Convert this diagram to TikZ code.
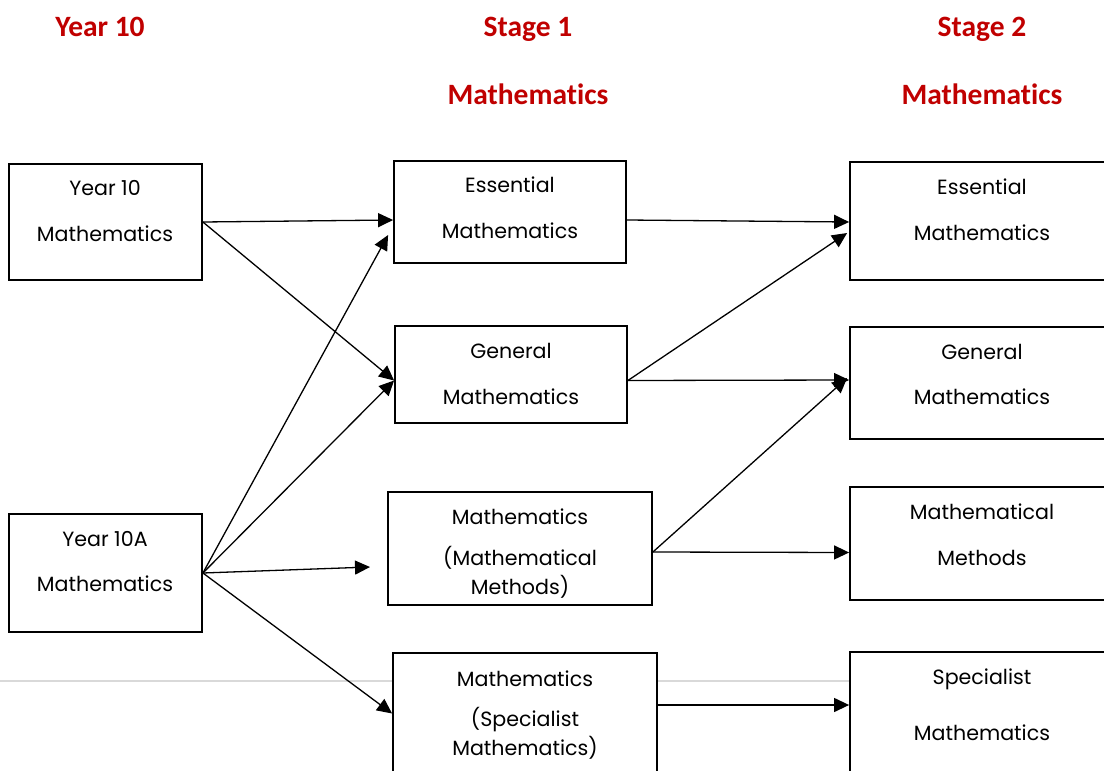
\documentclass[tikz,border=0pt]{standalone}
\usepackage{fontspec}
\setmainfont{Poppins}
\newfontfamily\headfont[Ligatures=NoCommon]{Carlito}
\usetikzlibrary{arrows.meta,calc}
\definecolor{headred}{HTML}{C00000}
\definecolor{pagegray}{HTML}{D9D9D9}
\begin{document}
\begin{tikzpicture}[x=1pt,y=-1pt,
 box/.style={draw=black,line width=1.8pt,fill=white,inner sep=0pt},
 txt/.style={font=\fontsize{20.6}{24}\selectfont,inner sep=0pt,text height=0.7em,text depth=0pt,yshift=-4pt},
 head/.style={font=\headfont\bfseries\fontsize{29.5}{34}\selectfont,text=headred,inner sep=0pt,text height=0.644em,text depth=0pt,yshift=-6.5pt},
 conn/.style={line width=1.3pt,-{Triangle[length=15pt,width=14pt]}}]
\useasboundingbox (0,0) rectangle (1104,771);
\draw[pagegray,line width=1.5pt] (0,681) -- (1104,681);
% headers
\node[head] (h1) at (100,27) {Year 10};
\node[head] (h2) at (528,27) {Stage 1};
\node[head] (h2b) at (528,95) {Mathematics};
\node[head] (h3) at (982,27) {Stage 2};
\node[head] (h3b) at (982,95) {Mathematics};
% boxes
\node[box,minimum width=193pt,minimum height=116pt] (y10) at (105.5,222) {};
\node[box,minimum width=193pt,minimum height=118pt] (y10a) at (105.5,573) {};
\node[box,minimum width=232pt,minimum height=102pt] (s1e) at (510,212) {};
\node[box,minimum width=232pt,minimum height=97pt] (s1g) at (511,374.5) {};
\node[box,minimum width=264pt,minimum height=113pt] (s1m) at (520,548.5) {};
\node[box,minimum width=264pt,minimum height=147pt] (s1s) at (525,726.5) {};
\node[box,minimum width=264pt,minimum height=118pt] (s2e) at (982,221) {};
\node[box,minimum width=264pt,minimum height=112pt] (s2g) at (982,383) {};
\node[box,minimum width=264pt,minimum height=113pt] (s2m) at (982,543.5) {};
\node[box,minimum width=264pt,minimum height=148pt] (s2s) at (982,726) {};
% texts
\node[txt] (t1a) at (105,188) {Year 10};
\node[txt] (t1b) at (105,234) {Mathematics};
\node[txt] (t2a) at (105,539) {Year 10A};
\node[txt] (t2b) at (105,584) {Mathematics};
\node[txt] (t3a) at (510,185) {Essential};
\node[txt] (t3b) at (510,231) {Mathematics};
\node[txt] (t4a) at (511,351) {General};
\node[txt] (t4b) at (511,397) {Mathematics};
\node[txt] (t5a) at (520,517) {Mathematics};
\node[txt] (t5b) at (520,558) {(Mathematical};
\node[txt] (t5c) at (520,587) {Methods)};
\node[txt] (t6a) at (525,679) {Mathematics};
\node[txt] (t6b) at (525,719) {(Specialist};
\node[txt] (t6c) at (525,748) {Mathematics)};
\node[txt] (t7a) at (982,187) {Essential};
\node[txt] (t7b) at (982,233) {Mathematics};
\node[txt] (t8a) at (982,352) {General};
\node[txt] (t8b) at (982,397) {Mathematics};
\node[txt] (t9a) at (982,512) {Mathematical};
\node[txt] (t9b) at (982,558) {Methods};
\node[txt] (t10a) at (982,677) {Specialist};
\node[txt] (t10b) at (982,733) {Mathematics};
% connectors
\coordinate (mfree) at (370,567);
\draw[conn] (y10.east) -- ($(s1e.west)+(0,8)$);
\draw[conn] (y10.east) -- ($(s1g.west)+(0,6)$);
\draw[conn] (y10a.east) -- ($(s1e.west)+(-5,23)$);
\draw[conn] (y10a.east) -- ($(s1g.west)+(0,6)$);
\draw[conn] (y10a.east) -- (mfree);
\draw[conn] (y10a.east) -- ($(s1s.west)+(0,-13)$);
\draw[conn] ($(s1e.east)+(0,8)$) -- ($(s2e.west)+(0,1)$);
\draw[conn] ($(s1g.east)+(0,6)$) -- ($(s2e.west)+(-2,12)$);
\draw[conn] ($(s1g.east)+(0,6)$) -- ($(s2g.west)+(0,-3)$);
\draw[conn] ($(s1m.east)+(0,3.5)$) -- ($(s2g.west)+(-2,-5)$);
\draw[conn] ($(s1m.east)+(0,3.5)$) -- ($(s2m.west)+(0,9)$);
\draw[conn] ($(s1s.east)+(0,-21.5)$) -- ($(s2s.west)+(0,-21)$);
\end{tikzpicture}
\end{document}
